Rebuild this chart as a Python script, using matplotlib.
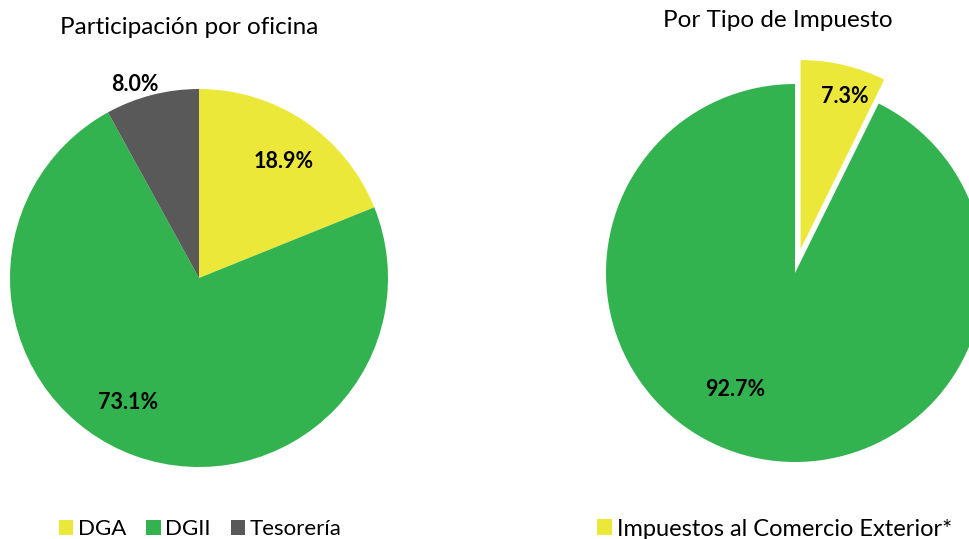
import matplotlib.pyplot as plt
import numpy as np

plt.rcParams['font.family'] = ['Lato', 'DejaVu Sans']

W, H = 969, 539

# data
oficinas = ['DGA', 'DGII', 'Tesorería']
part_oficina = [18.9, 73.1, 8.0]
colores_oficina = ['#ECE83A', '#33B34F', '#595959']

tipos = ['Impuestos al Comercio Exterior*', 'Otros']
part_tipo = [7.3, 92.7]
colores_tipo = ['#ECE83A', '#33B34F']

# label placement (radial fraction, angle shift in degrees)
lbl_oficina = [(0.76, -2), (0.76, -10), (1.08, 4)]
lbl_tipo = [(0.84, -3), (0.69, -14)]

fig = plt.figure(figsize=(W / 100, H / 100), dpi=100)
L = 1.3


def pie_axes(cx, cy, r):
    ax = fig.add_axes([(cx - r * L) / W, (H - cy - r * L) / H, 2 * r * L / W, 2 * r * L / H])
    return ax


def draw_pie(ax, values, colors, lbls, explode=None):
    wedges, _ = ax.pie(values, colors=colors, startangle=90, counterclock=False,
                       explode=explode, radius=1)
    ax.set_xlim(-L, L)
    ax.set_ylim(-L, L)
    ax.set_aspect('equal')
    ax.axis('off')
    for w, v, (d, shift) in zip(wedges, values, lbls):
        ang = np.deg2rad((w.theta1 + w.theta2) / 2 + shift)
        cx, cy = w.center
        ax.text(cx + d * np.cos(ang), cy + d * np.sin(ang), f'{v:.1f}%',
                ha='center', va='center', fontsize=15.5, fontweight='bold', color='black')
    return wedges


ax1 = pie_axes(199, 278, 189)
w1 = draw_pie(ax1, part_oficina, colores_oficina, lbl_oficina)

ax2 = pie_axes(795, 273, 189)
w2 = draw_pie(ax2, part_tipo, colores_tipo, lbl_tipo, explode=[0.13, 0])

fig.text(189 / W, 1 - 34 / H, 'Participación por oficina', ha='center', va='baseline', fontsize=17.5)
fig.text(778 / W, 1 - 27 / H, 'Por Tipo de Impuesto', ha='center', va='baseline', fontsize=17.5)

leg_kw = dict(frameon=False, fontsize=16, handlelength=0.65, handleheight=0.65,
              handletextpad=0.2, columnspacing=0.9, borderaxespad=0, borderpad=0)
fig.legend(w1, oficinas, ncol=3, loc='center left', bbox_to_anchor=(59 / W, 1 - 529 / H), **leg_kw)
fig.legend(w2[:1], tipos[:1], ncol=1, loc='center left', bbox_to_anchor=(597 / W, 1 - 529 / H),
           **{**leg_kw, 'fontsize': 17})

fig.savefig('out.png', dpi=100)
